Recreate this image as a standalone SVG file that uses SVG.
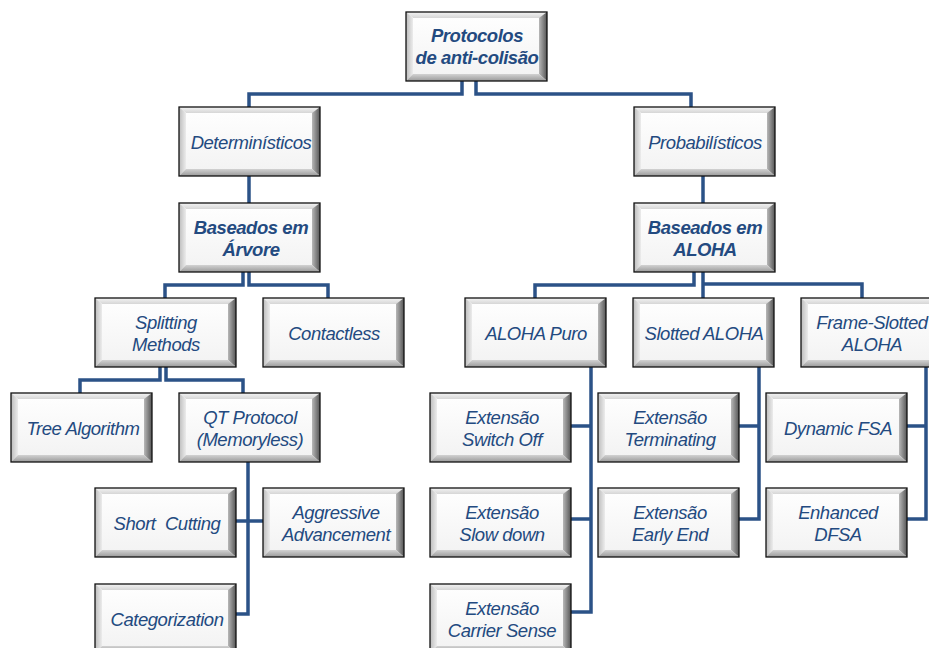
<svg xmlns="http://www.w3.org/2000/svg" xmlns:xlink="http://www.w3.org/1999/xlink" width="929" height="648" viewBox="0 0 929 648">
<defs>
<linearGradient id="gFace" x1="0" y1="0" x2="0" y2="1"><stop offset="0" stop-color="#ffffff"/><stop offset="1" stop-color="#f2f2f2"/></linearGradient>
<linearGradient id="gTop" x1="0" y1="0" x2="0" y2="1"><stop offset="0" stop-color="#f4f4f4"/><stop offset="1" stop-color="#d6d6d6"/></linearGradient>
<linearGradient id="gLeft" x1="0" y1="0" x2="1" y2="0"><stop offset="0" stop-color="#bcbcbc"/><stop offset="1" stop-color="#ececec"/></linearGradient>
<linearGradient id="gRight" x1="0" y1="0" x2="1" y2="0"><stop offset="0" stop-color="#b8b8b8"/><stop offset="1" stop-color="#555555"/></linearGradient>
<linearGradient id="gBottom" x1="0" y1="0" x2="0" y2="1"><stop offset="0" stop-color="#d2d2d2"/><stop offset="1" stop-color="#999999"/></linearGradient>
<g id="box">
<rect x="0" y="0" width="141" height="69" fill="url(#gFace)"/>
<polygon points="0,0 141,0 134,6 7,6" fill="url(#gTop)"/>
<polygon points="0,0 7,6 7,62 0,69" fill="url(#gLeft)"/>
<polygon points="141,0 141,69 133,62 133,6" fill="url(#gRight)"/>
<polygon points="0,69 141,69 133,62 7,62" fill="url(#gBottom)"/>
<rect x="0" y="0" width="141" height="69" fill="none" stroke="#111" stroke-width="1.3"/>
</g>
</defs>
<style>
text{font-family:"Liberation Sans",Arial,sans-serif;font-size:18.5px;font-style:italic;fill:#234a80;text-anchor:middle;letter-spacing:-0.45px}
text.b{font-weight:bold}
.conn path{fill:none;stroke:#2b5287;stroke-width:3.5;stroke-linejoin:miter}
</style>
<g class="conn" id="connectors">
<path d="M462,80 V94 H249 V107"/>
<path d="M476,80 V94 H691 V107"/>
<path d="M249,175 V203"/>
<path d="M703,175 V203"/>
<path d="M243,272 V285 H165 V298"/>
<path d="M249,272 V285 H328 V298"/>
<path d="M694,272 V285 H535 V298"/>
<path d="M703,272 V298"/>
<path d="M703,284 H862 V298"/>
<path d="M160,367 V380 H80 V393"/>
<path d="M166,367 V380 H243 V393"/>
<path d="M248,462 V614 H236"/>
<path d="M236,521 H263"/>
<path d="M591,367 V612 H571"/>
<path d="M571,426 H591"/>
<path d="M571,519 H591"/>
<path d="M759,367 V519 H739"/>
<path d="M739,426 H759"/>
<path d="M926,367 V519 H907"/>
<path d="M907,426 H926"/>
</g>
<g id="root"><use xlink:href="#box" x="406" y="12"/><text class="b" x="477" y="42">Protocolos</text><text class="b" x="477" y="64">de anti-colisão</text></g>
<g id="det"><use xlink:href="#box" x="179" y="107"/><text x="251" y="149">Determinísticos</text></g>
<g id="prob"><use xlink:href="#box" x="634" y="107"/><text x="705" y="149">Probabilísticos</text></g>
<g id="arvore"><use xlink:href="#box" x="179" y="203"/><text class="b" x="251" y="234">Baseados em</text><text class="b" x="251" y="256">Árvore</text></g>
<g id="aloha"><use xlink:href="#box" x="634" y="203"/><text class="b" x="705" y="234">Baseados em</text><text class="b" x="705" y="256">ALOHA</text></g>
<g id="splitting"><use xlink:href="#box" x="95" y="298"/><text x="166" y="329">Splitting</text><text x="166" y="351">Methods</text></g>
<g id="contactless"><use xlink:href="#box" x="263" y="298"/><text x="334" y="340">Contactless</text></g>
<g id="alohapuro"><use xlink:href="#box" x="465" y="298"/><text x="536" y="340">ALOHA Puro</text></g>
<g id="slotted"><use xlink:href="#box" x="633" y="298"/><text x="704" y="340">Slotted ALOHA</text></g>
<g id="frameslotted"><use xlink:href="#box" x="801" y="298"/><text x="872" y="329">Frame-Slotted</text><text x="872" y="351">ALOHA</text></g>
<g id="tree"><use xlink:href="#box" x="11" y="393"/><text x="83" y="435">Tree Algorithm</text></g>
<g id="qt"><use xlink:href="#box" x="179" y="393"/><text x="250" y="424">QT Protocol</text><text x="250" y="446">(Memoryless)</text></g>
<g id="switchoff"><use xlink:href="#box" x="430" y="393"/><text x="502" y="424">Extensão</text><text x="502" y="446">Switch Off</text></g>
<g id="terminating"><use xlink:href="#box" x="598" y="393"/><text x="670" y="424">Extensão</text><text x="670" y="446">Terminating</text></g>
<g id="dynamic"><use xlink:href="#box" x="766" y="393"/><text x="838" y="435">Dynamic FSA</text></g>
<g id="shortcutting"><use xlink:href="#box" x="95" y="488"/><text x="167" y="530" style="white-space:pre">Short  Cutting</text></g>
<g id="aggressive"><use xlink:href="#box" x="263" y="488"/><text x="336" y="519">Aggressive</text><text x="336" y="541">Advancement</text></g>
<g id="slowdown"><use xlink:href="#box" x="430" y="488"/><text x="502" y="519">Extensão</text><text x="502" y="541">Slow down</text></g>
<g id="earlyend"><use xlink:href="#box" x="598" y="488"/><text x="670" y="519">Extensão</text><text x="670" y="541">Early End</text></g>
<g id="enhanced"><use xlink:href="#box" x="766" y="488"/><text x="838" y="519">Enhanced</text><text x="838" y="541">DFSA</text></g>
<g id="categorization"><use xlink:href="#box" x="95" y="584"/><text x="167" y="626">Categorization</text></g>
<g id="carriersense"><use xlink:href="#box" x="430" y="584"/><text x="502" y="615">Extensão</text><text x="502" y="637">Carrier Sense</text></g>
</svg>
